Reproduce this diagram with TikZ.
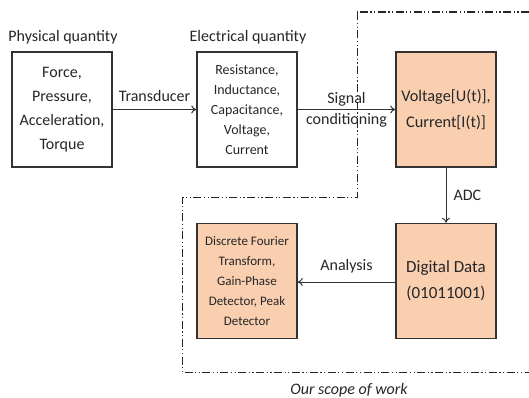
\documentclass[tikz,border=0pt]{standalone}
\usepackage{fontspec}
\setmainfont{Carlito}
\usetikzlibrary{arrows.meta,positioning}
\definecolor{boxfill}{HTML}{F9CFB0}
\definecolor{edge}{HTML}{333333}
\tikzset{
  blk/.style={draw=edge, line width=1.5pt, minimum width=100pt, minimum height=115pt,
    inner sep=0pt, align=center, text=black!85},
  hot/.style={blk, fill=boxfill},
  flow/.style={draw=edge, line width=1pt, -{To[length=5pt,width=8pt]}},
  lbl/.style={font=\fontsize{16}{18}\selectfont, text=black!85, inner sep=0pt},
  scope line/.style={draw=black!85, line width=1pt,
    dash pattern=on 8pt off 2.5pt on 1.2pt off 2.5pt on 1.2pt off 2.5pt}
}
\begin{document}
\begin{tikzpicture}[x=1pt,y=-1pt]
\useasboundingbox (0,0) rectangle (529,398);

% blocks
\node[blk, font=\fontsize{16}{24}\selectfont] (phys) at (62,109.5)
  {Force,\\Pressure,\\Acceleration,\\Torque};
\node[blk, font=\fontsize{14}{20}\selectfont] (elec) at (247,109.5)
  {Resistance,\\Inductance,\\Capacitance,\\Voltage,\\Current};
\node[hot, font=\fontsize{16.3}{26}\selectfont] (volt) at (446,109.5)
  {Voltage[U(t)],\\Current[I(t)]};
\node[hot, font=\fontsize{17}{26}\selectfont] (dig) at (446,281)
  {Digital Data\\(01011001)};
\node[hot, font=\fontsize{13}{20}\selectfont] (dft) at (247,281)
  {Discrete Fourier\\Transform,\\Gain-Phase\\Detector, Peak\\Detector};

% headings
\node[lbl] (hphys) at (63,37) {Physical quantity};
\node[lbl] (helec) at (248,37) {Electrical quantity};

% scope of work boundary
\coordinate (s1) at (529,12.5);
\coordinate (s2) at (357,12.5);
\coordinate (s3) at (357,197);
\coordinate (s4) at (182,197);
\coordinate (s5) at (182,372);
\coordinate (s6) at (529,372);
\draw[scope line, line width=2pt] (s1) -- (s2);
\draw[scope line] (s2) -- (s3) -- (s4) -- (s5) -- (s6);
\node[lbl, font=\fontsize{16}{18}\selectfont\itshape] (scope) at (349,390) {Our scope of work};

% connectors
\draw[flow] (phys) -- node[lbl, above=7pt] (ltr) {Transducer} (elec);
\draw[flow] (elec) -- node[lbl, align=center] (lsig)
  {Signal\\[3pt]conditioning} (volt);
\draw[flow] (volt) -- node[lbl, right=7pt] (ladc) {ADC} (dig);
\path (dig.west) ++(0,1) coordinate (da) (dft.east) ++(0,1) coordinate (db);
\draw[flow] (da) -- node[lbl, above=8pt] (lan) {Analysis} (db);
\end{tikzpicture}
\end{document}
